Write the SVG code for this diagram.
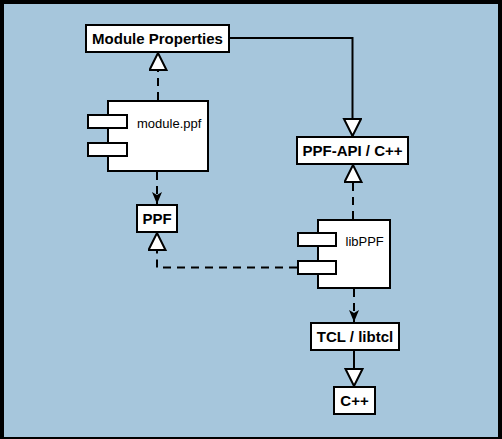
<svg xmlns="http://www.w3.org/2000/svg" width="502" height="439" viewBox="0 0 502 439">
<style>
.box{fill:#fff;stroke:#000;stroke-width:2}
.ln{fill:none;stroke:#000;stroke-width:2}
.dash{stroke-dasharray:8,6}
.lb{font-family:"Liberation Sans",Arial,sans-serif;font-size:15px;font-weight:bold;text-anchor:middle;fill:#000}
.lc{font-family:"Liberation Sans",Arial,sans-serif;font-size:13px;fill:#000}
</style>
<defs>
<marker id="tri" markerUnits="userSpaceOnUse" markerWidth="20" markerHeight="20" viewBox="-1 -1 20 20" refX="17" refY="8.5" orient="auto">
<path d="M0,0 L17,8.5 L0,17 z" fill="#fff" stroke="#000" stroke-width="2"/>
</marker>
<marker id="arr" markerUnits="userSpaceOnUse" markerWidth="14" markerHeight="12" viewBox="0 0 14 12" refX="12" refY="5" orient="auto">
<path d="M0,0 L12,5 L0,10 L3,5 z" fill="#000"/>
</marker>
</defs>
<rect x="0" y="0" width="502" height="439" fill="#000"/>
<rect x="4" y="4" width="494" height="433" fill="#a6c6dc"/>
<g id="connectors">
<path class="ln" d="M230,38 H352.5 V136" marker-end="url(#tri)"/>
<path class="ln dash" d="M158,100 V53" marker-end="url(#tri)"/>
<path class="ln dash" d="M157,172 V204" marker-end="url(#arr)"/>
<path class="ln dash" d="M297,267.5 H157 V233" marker-end="url(#tri)"/>
<path class="ln dash" d="M353,219 V165" marker-end="url(#tri)"/>
<path class="ln dash" d="M354,289 V322" marker-end="url(#arr)"/>
<path class="ln" d="M354,351 V386" marker-end="url(#tri)"/>
</g>
<g id="module-properties">
<rect class="box" x="86" y="25" width="143" height="27"/>
<text class="lb" x="157.5" y="44">Module Properties</text>
</g>
<g id="module-ppf">
<rect class="box" x="108" y="101" width="100" height="70"/>
<rect class="box" x="88" y="115" width="39" height="13"/>
<rect class="box" x="88" y="143" width="39" height="13"/>
<text class="lc" x="137" y="128">module.ppf</text>
</g>
<g id="ppf">
<rect class="box" x="137" y="205" width="40" height="27"/>
<text class="lb" x="157" y="224">PPF</text>
</g>
<g id="ppf-api">
<rect class="box" x="297" y="137" width="111" height="27"/>
<text class="lb" x="352.5" y="156">PPF-API / C++</text>
</g>
<g id="libppf">
<rect class="box" x="318" y="220" width="72" height="68"/>
<rect class="box" x="298" y="233" width="38" height="13"/>
<rect class="box" x="298" y="261" width="38" height="13"/>
<text class="lc" x="345.5" y="245.5">libPPF</text>
</g>
<g id="tcl">
<rect class="box" x="311" y="323" width="88" height="27"/>
<text class="lb" x="355" y="342">TCL / libtcl</text>
</g>
<g id="cpp">
<rect class="box" x="334" y="387" width="41" height="27"/>
<text class="lb" x="354.5" y="406">C++</text>
</g>
</svg>
